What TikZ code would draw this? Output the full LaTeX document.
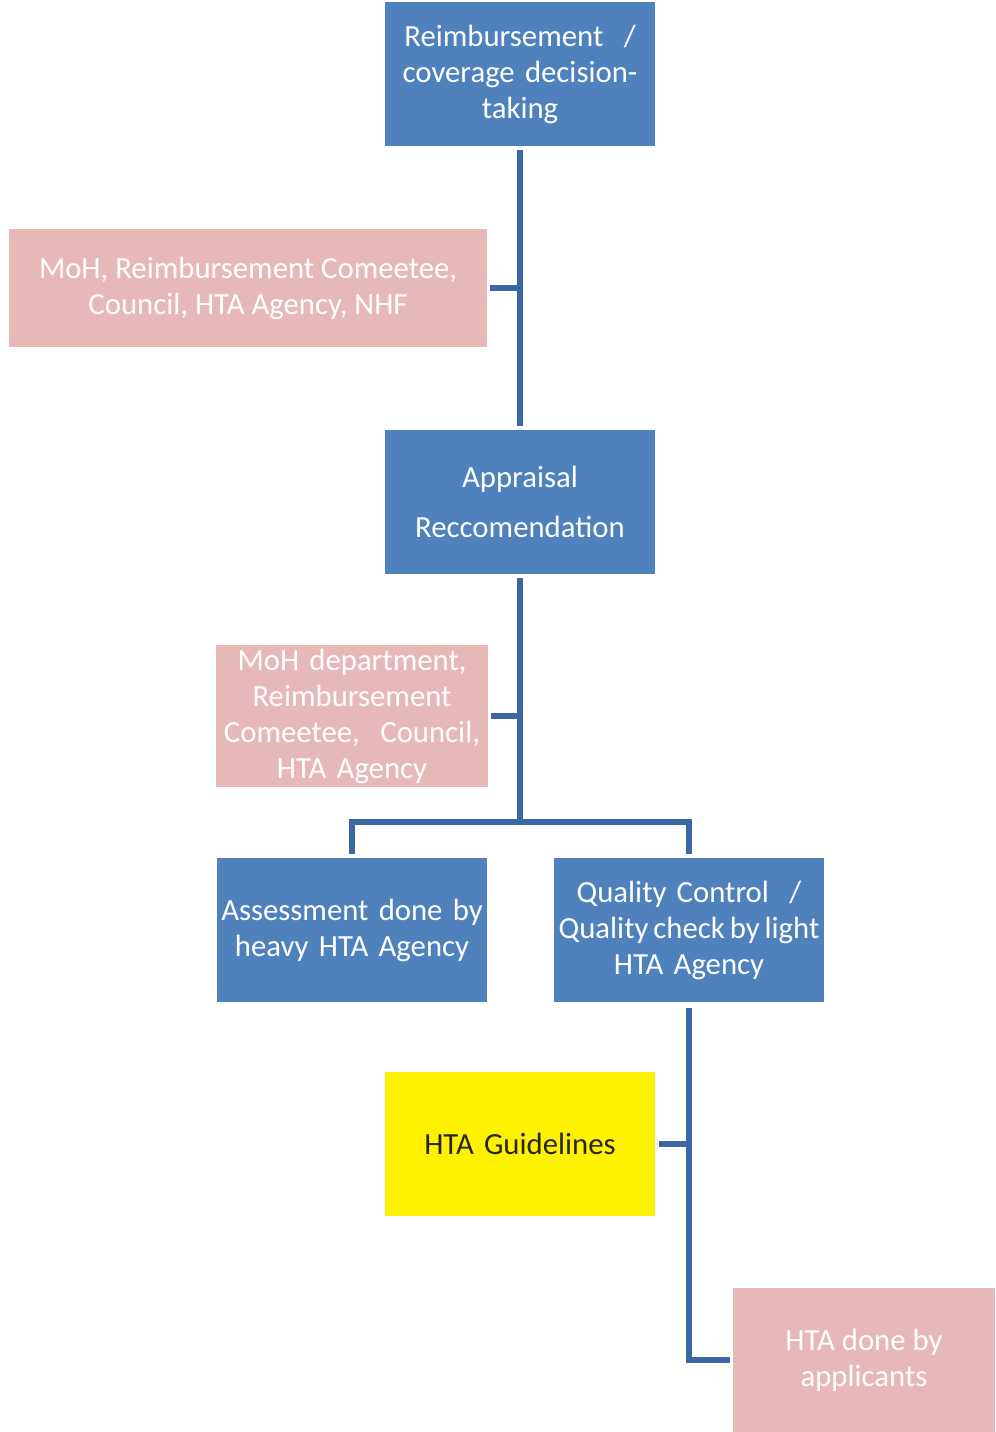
\documentclass[tikz,border=0pt]{standalone}
\usepackage{fontspec}
\setmainfont{Carlito}
\definecolor{boxblue}{HTML}{4F81BD}
\definecolor{boxpink}{HTML}{E6B9B8}
\definecolor{linkblue}{HTML}{3A67A6}
\tikzset{
  stage/.style={rectangle,fill=boxblue,text=white,minimum width=5.42cm,minimum height=2.88cm,
    text width=5.42cm,inner sep=0pt,align=center,font=\fontsize{17.5}{20.5}\selectfont},
  actor/.style={rectangle,fill=boxpink,text=white,inner sep=0pt,align=center,
    font=\fontsize{17.5}{20.5}\selectfont},
  guide/.style={stage,fill=yellow,text=black!85},
  link/.style={draw=linkblue,line width=1.1mm,line cap=rect}
}
\begin{document}
\begin{tikzpicture}[x=0.02cm,y=-0.02cm]
\useasboundingbox (0,0) rectangle (995,1432);

\node[stage] (reim) at (520,74) {Reimbursement \ /\\coverage decision-\\taking};
\node[actor,minimum width=9.58cm,minimum height=2.36cm] (moh) at (248,288) {MoH, Reimbursement Comeetee,\\Council, HTA Agency, NHF};

\node[stage] (appr) at (520,502) {Appraisal\\[8pt]Reccomendation};
\node[actor,minimum width=5.44cm,minimum height=2.86cm,text width=5.44cm] (dept) at (352,716) {MoH department,\\Reimbursement\\Comeetee, \ Council,\\HTA Agency};

\node[stage] (assess) at (352,930) {Assessment done by\\heavy HTA Agency};
\node[stage] (qual) at (689,930) {Quality Control \ /\\\makebox[5.42cm][c]{\spaceskip=0.16em Quality check by light}\\HTA Agency};

\node[guide] (guide) at (520,1144) {HTA Guidelines};
\node[actor,minimum width=5.24cm,minimum height=2.88cm] (appl) at (864,1360) {HTA done by\\applicants};

\draw[link] ([yshift=-0.12cm]reim.south) -- ([yshift=0.12cm]appr.north);
\draw[link] ([xshift=0.1cm]moh.east) -- (moh.east -| reim.south);

\draw[link] ([yshift=-0.12cm]appr.south) -- (520,822);
\draw[link] ([xshift=0.1cm]dept.east) -- (dept.east -| appr.south);
\draw[link] ([yshift=0.12cm]assess.north) -- (352,822) -- (689,822) -- ([yshift=0.12cm]qual.north);

\draw[link] ([yshift=-0.16cm]qual.south) -- (qual.south |- appl.west) -- ([xshift=-0.1cm]appl.west);
\draw[link] ([xshift=0.12cm]guide.east) -- (guide.east -| qual.south);

\end{tikzpicture}
\end{document}
